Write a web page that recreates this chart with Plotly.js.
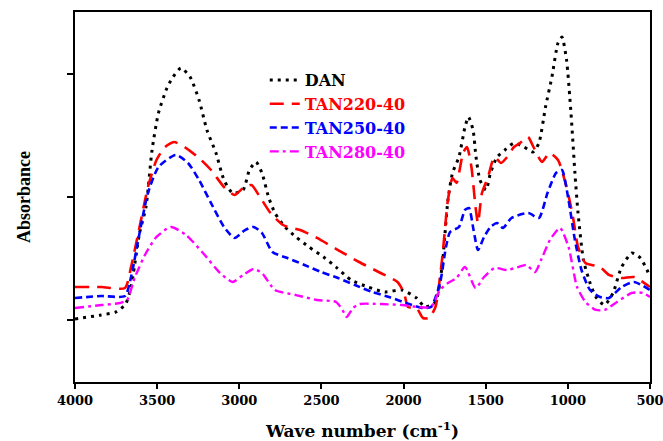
<!DOCTYPE html>
<html>
<head>
<meta charset="utf-8">
<script src="https://cdn.plot.ly/plotly-3.0.1.min.js"></script>
<style>
  html, body { margin: 0; padding: 0; background: #ffffff; }
  #chart { width: 663px; height: 441px; }
</style>
</head>
<body>
<div id="chart"></div>
<script>
// Series names and colours
const seriesNames = ["DAN", "TAN220-40", "TAN250-40", "TAN280-40"];
const seriesColors = ["#000000", "#ff0000", "#0000ff", "#ff00ff"];

// Wavenumbers (cm^-1) and absorbance (arbitrary units)
const danX = [4000,3842,3750,3692,3659,3607,3568,3531,3492,3440,3403,3355,3300,3245,3197,3142,3093,3041,2977,2938,2898,2862,2822,2783,2722,2655,2576,2487,2411,2320,2216,2113,2010,1921,1870,1806,1766,1730,1702,1663,1626,1605,1577,1559,1535,1498,1471,1431,1383,1328,1267,1212,1176,1136,1097,1060,1036,1008,981,957,938,905,865,829,777,725,673,610,558,518,500];
const danY = [0.511,0.543,0.568,0.632,0.770,1.208,1.419,1.881,2.181,2.384,2.474,2.546,2.474,2.287,2.043,1.857,1.638,1.532,1.557,1.719,1.784,1.695,1.500,1.370,1.257,1.176,1.095,1.014,0.932,0.827,0.770,0.730,0.746,0.681,0.608,0.649,0.932,1.476,1.695,1.824,2.068,2.149,2.043,1.824,1.638,1.557,1.695,1.824,1.881,1.938,1.905,1.865,1.938,2.230,2.473,2.749,2.797,2.611,2.181,1.695,1.370,0.989,0.803,0.689,0.624,0.722,0.932,1.046,1.005,0.908,0.851];

const t220X = [4000,3839,3696,3659,3607,3556,3504,3452,3397,3324,3245,3172,3093,3029,2977,2926,2874,2810,2734,2630,2527,2399,2271,2140,2037,1997,1973,1921,1882,1845,1806,1766,1730,1702,1678,1638,1614,1587,1562,1547,1523,1486,1447,1407,1370,1328,1291,1243,1209,1157,1112,1060,1008,969,938,893,804,750,673,597,500];
const t220Y = [0.770,0.770,0.762,0.932,1.257,1.581,1.800,1.905,1.946,1.897,1.816,1.719,1.581,1.516,1.573,1.597,1.500,1.370,1.273,1.232,1.168,1.070,0.973,0.884,0.811,0.722,0.608,0.600,0.519,0.519,0.608,0.989,1.476,1.654,1.614,1.857,1.905,1.743,1.419,1.289,1.532,1.662,1.824,1.776,1.824,1.905,1.938,1.987,1.905,1.784,1.857,1.800,1.581,1.338,1.095,0.965,0.932,0.868,0.843,0.851,0.770];

const t250X = [4000,3839,3696,3659,3607,3556,3492,3388,3312,3245,3172,3093,3029,2965,2913,2862,2798,2707,2603,2503,2399,2296,2192,2089,1985,1882,1833,1778,1742,1717,1663,1626,1602,1574,1547,1510,1471,1431,1395,1343,1240,1176,1124,1072,1036,996,957,917,865,804,750,673,597,500];
const t250Y = [0.681,0.697,0.697,0.851,1.208,1.532,1.743,1.841,1.776,1.638,1.451,1.257,1.168,1.232,1.257,1.208,1.054,1.005,0.949,0.892,0.843,0.786,0.730,0.689,0.641,0.600,0.608,0.803,1.095,1.216,1.257,1.395,1.411,1.232,1.070,1.176,1.257,1.289,1.249,1.330,1.370,1.330,1.532,1.695,1.719,1.476,1.151,0.908,0.746,0.689,0.681,0.770,0.811,0.746];

const t280X = [4000,3839,3723,3683,3635,3568,3504,3416,3324,3221,3117,3041,2977,2913,2862,2783,2655,2527,2411,2372,2347,2308,2268,2140,2010,1909,1833,1778,1730,1678,1626,1562,1510,1447,1370,1303,1252,1200,1163,1109,1048,996,944,893,829,777,701,610,543,500];
const t280Y = [0.600,0.624,0.641,0.665,0.851,1.046,1.176,1.257,1.192,1.046,0.884,0.811,0.868,0.916,0.884,0.746,0.705,0.665,0.649,0.584,0.527,0.600,0.632,0.632,0.624,0.608,0.608,0.746,0.803,0.843,0.932,0.762,0.851,0.924,0.908,0.932,0.949,0.892,0.989,1.151,1.249,1.095,0.770,0.649,0.584,0.584,0.649,0.722,0.722,0.689];

// X-axis ticks
const xTickVals = [4000,3500,3000,2500,2000,1500,1000,500];
const xTickText = ["4000","3500","3000","2500","2000","1500","1000","500"];
const yTickVals = [0.5, 1.5, 2.5];

const xs = [danX, t220X, t250X, t280X];
const ys = [danY, t220Y, t250Y, t280Y];
const dashes = ["3px,5px", "14px,8px", "7px,4px", "9px,4px,3px,4px"];
const widths = [3, 2.6, 2.6, 2.4];

const traces = seriesNames.map((n, i) => ({
  type: "scatter",
  mode: "lines",
  x: xs[i],
  y: ys[i],
  name: '<span style="color:' + seriesColors[i] + '">' + n + '</span>',
  line: { color: seriesColors[i], width: widths[i], dash: dashes[i], shape: "spline", smoothing: 0.6 },
  hoverinfo: "skip"
}));

const layout = {
  width: 663,
  height: 441,
  margin: { l: 75, r: 13, t: 12, b: 59 },
  paper_bgcolor: "#ffffff",
  plot_bgcolor: "#ffffff",
  font: { family: "DejaVu Serif", color: "#000000" },
  showlegend: true,
  legend: {
    x: 0.33, y: 0.862, xanchor: "left", yanchor: "top",
    bgcolor: "rgba(0,0,0,0)",
    font: { family: "DejaVu Serif", size: 16, weight: "bold" },
    tracegroupgap: 0
  },
  xaxis: {
    range: [4000, 500],
    autorange: false,
    tickmode: "array",
    tickvals: xTickVals,
    ticktext: xTickText,
    ticklabeloverflow: "allow",
    ticks: "outside",
    ticklen: 5,
    tickwidth: 2,
    tickcolor: "#000",
    showline: true,
    linecolor: "#000",
    linewidth: 2,
    mirror: true,
    showgrid: false,
    zeroline: false,
    tickfont: { family: "DejaVu Serif", size: 13, weight: "bold", color: "#000" },
    title: {
      text: "Wave number (cm<sup>-1</sup>)",
      font: { family: "DejaVu Serif", size: 17, weight: "bold", color: "#000" },
      standoff: 19
    }
  },
  yaxis: {
    range: [0, 3],
    autorange: false,
    tickmode: "array",
    tickvals: yTickVals,
    showticklabels: false,
    ticks: "outside",
    ticklen: 6,
    tickwidth: 2,
    tickcolor: "#000",
    showline: true,
    linecolor: "#000",
    linewidth: 2,
    mirror: true,
    showgrid: false,
    zeroline: false,
    title: {
      text: "Absorbance",
      font: { family: "Liberation Serif", size: 18, weight: "bold", color: "#000" },
      standoff: 32
    }
  }
};

Plotly.newPlot("chart", traces, layout, { displayModeBar: false, staticPlot: true });
</script>
</body>
</html>
